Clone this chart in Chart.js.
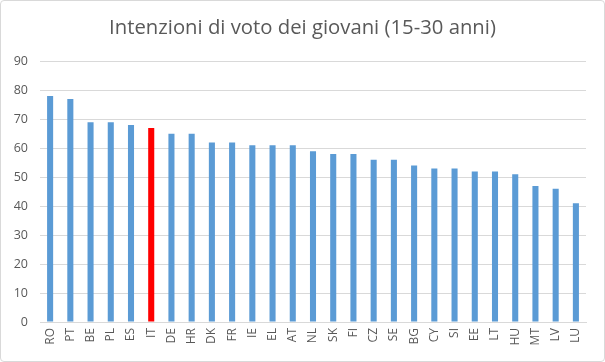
<!DOCTYPE html>
<html>
<head>
<meta charset="utf-8">
<script src="https://cdn.jsdelivr.net/npm/chart.js@4"></script>
<style>
  html, body { margin: 0; padding: 0; background: #fff; }
  #wrap { position: relative; width: 603px; height: 360px; border: 1px solid #d9d9d9; border-radius: 4px; overflow: hidden; }
  canvas { display: block; }
</style>
</head>
<body>
<div id="wrap"><canvas id="c" width="603" height="360"></canvas></div>
<script>
const countries = ["RO","PT","BE","PL","ES","IT","DE","HR","DK","FR","IE","EL","AT","NL","SK","FI","CZ","SE","BG","CY","SI","EE","LT","HU","MT","LV","LU"];
const voteIntentions = [78,77,69,69,68,67,65,65,62,62,61,61,61,59,58,58,56,56,54,53,53,52,52,51,47,46,41];
const highlighted = "IT";
const titleText = "Intenzioni di voto dei giovani (15-30 anni)";

const barColors = countries.map(c => c === highlighted ? "#FF0000" : "#5B9BD5");
const FONT = "'Open Sans', 'Liberation Sans', sans-serif";

new Chart(document.getElementById("c"), {
  type: "bar",
  data: {
    labels: countries,
    datasets: [{
      data: voteIntentions,
      backgroundColor: barColors,
      borderWidth: 0,
      barPercentage: 0.3,
      categoryPercentage: 1.0,
      yAxisID: "y"
    }]
  },
  options: {
    responsive: false,
    animation: false,
    devicePixelRatio: 1,
    layout: { padding: 0 },
    plugins: {
      legend: { display: false },
      tooltip: { enabled: false },
      title: {
        display: true,
        text: titleText,
        color: "#595959",
        font: { family: FONT, size: 20.3, weight: "normal" },
        padding: { top: 15, bottom: 21 }
      }
    },
    scales: {
      x: {
        grid: { display: false, drawTicks: false },
        border: { display: true, color: "#d9d9d9", width: 1 },
        ticks: {
          color: "#595959",
          font: { family: FONT, size: 12 },
          maxRotation: 90, minRotation: 90,
          padding: 6,
          autoSkip: false
        },
        afterFit: (s) => { s.height = 39; }
      },
      y: {
        position: "left",
        min: 0, max: 90,
        ticks: { stepSize: 10, color: "#595959", font: { family: FONT, size: 12.5 }, padding: 12 },
        grid: { color: "#d9d9d9", drawTicks: false },
        border: { display: false },
        afterFit: (s) => { s.width = 39; }
      },
      yRightGap: {
        type: "linear",
        position: "right",
        display: true,
        min: 0, max: 90,
        grid: { display: false, drawTicks: false },
        ticks: { display: false },
        border: { display: false },
        afterFit: (s) => { s.width = 18; }
      }
    }
  }
});
</script>
</body>
</html>
